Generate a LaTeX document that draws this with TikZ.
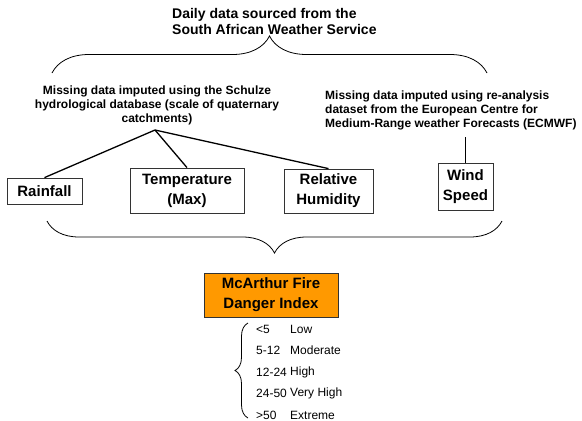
\documentclass[tikz,border=0pt]{standalone}
\usepackage{fontspec}
\setmainfont{Liberation Sans}
\usetikzlibrary{decorations.pathreplacing}
\definecolor{fdiorange}{HTML}{FF9900}
\tikzset{
  varbox/.style={draw=black!80, line width=0.8pt, align=center, inner sep=0pt,
    font=\fontsize{15}{20}\selectfont\bfseries},
  note/.style={font=\fontsize{12}{14}\selectfont\bfseries, inner sep=0pt},
  curly/.style={decorate, decoration={brace, amplitude=#1}, line width=0.8pt},
  link/.style={line width=1.3pt},
  rating/.style={font=\fontsize{12}{14}\selectfont, anchor=west, inner sep=0pt}
}

\begin{document}
\begin{tikzpicture}[x=1pt, y=-1pt]
      \useasboundingbox (0,0) rectangle (582,421);

      \node[font=\fontsize{14}{16}\selectfont\bfseries, align=left, anchor=west, inner sep=0pt] (saws) at (172,21)
        {Daily data sourced from the\\South African Weather Service};
      \coordinate (topl) at (52,73);
      \coordinate (topr) at (487,73);
      \draw[curly=37pt] (topl) -- (topr);

      \node[note, align=center] (schulze) at (157,105.5)
        {Missing data imputed using the Schulze\\hydrological database (scale of quaternary\\catchments)};
      \node[note, align=left, anchor=west] (ecmwf) at (325,110)
        {Missing data imputed using re-analysis\\dataset from the European Centre for\\Medium-Range weather Forecasts (ECMWF)};

      \node[varbox, minimum width=75pt, minimum height=26pt] (rain) at (44.5,191) {Rainfall};
      \node[varbox, minimum width=114pt, minimum height=45pt] (temp) at (187,190.5) {Temperature\\(Max)};
      \node[varbox, minimum width=89pt, minimum height=44pt] (rh) at (328.5,191) {Relative\\Humidity};
      \node[varbox, minimum width=55pt, minimum height=47pt] (wind) at (465.5,186.5) {Wind\\Speed};

      \coordinate (apex) at (155,130);
      \draw[link] (apex) -- (rain.north);
      \draw[link] (apex) -- (temp.north);
      \draw[link] (apex) -- (rh.north);
      \draw[link] (wind.north) -- ([yshift=-7pt]wind.north |- ecmwf.south);

      \coordinate (botr) at (502,221);
      \coordinate (botl) at (47,221);
      \draw[curly=32pt] (botr) -- (botl);

      \node[varbox, fill=fdiorange, minimum width=134pt, minimum height=44pt] (fdi) at (271,295)
        {McArthur Fire\\Danger Index};

      % danger classes
      \coordinate (classb) at (248,418);
      \coordinate (classt) at (248,323);
      \draw[curly=13pt] (classb) -- (classt);
      \foreach \val/\lvl [count=\i] in {<5/Low, 5-12/Moderate, 12-24/High, 24-50/Very High, >50/Extreme} {
        \node[rating] (val\i) at ({256},{329+21.5*(\i-1)}) {\val};
        \node[rating] (lvl\i) at ({290},{329+21.5*(\i-1)}) {\lvl};
      }
\end{tikzpicture}
\end{document}
